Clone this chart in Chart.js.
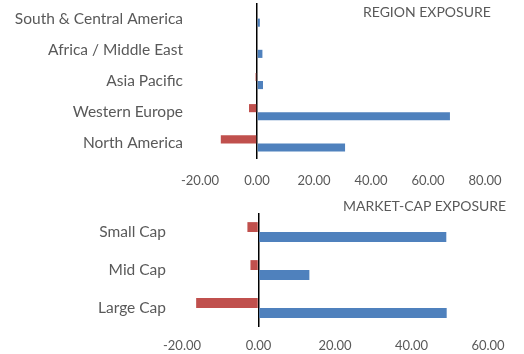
<!DOCTYPE html>
<html>
<head>
<meta charset="utf-8">
<script src="https://cdn.jsdelivr.net/npm/chart.js@4/dist/chart.umd.min.js"></script>
<style>
  body{margin:0;background:#fff;width:524px;height:354px;overflow:hidden;position:relative;font-family:Lato,sans-serif;}
  canvas{position:absolute;left:0;}
  #regionChart{top:0;}
  #capChart{top:195px;}
  .ttl{position:absolute;color:#595959;font-size:14px;line-height:16px;white-space:nowrap;}
</style>
</head>
<body>
<canvas id="regionChart" width="524" height="195"></canvas>
<canvas id="capChart" width="524" height="159"></canvas>
<div class="ttl" style="left:363px;top:4px;">REGION EXPOSURE</div>
<div class="ttl" style="left:343px;top:198px;">MARKET-CAP EXPOSURE</div>
<script>
// Data
const regionLabels=['South & Central America','Africa / Middle East','Asia Pacific','Western Europe','North America'];
const regionShort=[0, 0, -0.5, -2.8, -12.7];
const regionLong=[1.0, 1.9, 2.1, 67.7, 30.9];
const regionTicks={min:-20,max:80,step:20};

const capLabels=['Small Cap','Mid Cap','Large Cap'];
const capShort=[-2.9, -2.1, -16.3];
const capLong=[49.1, 13.3, 49.2];
const capTicks={min:-20,max:60,step:20};

const RED='#C0504D', BLUE='#4F81BD', GREY='#595959';

function makeChart(id, labels, shortVals, longVals, tk, box){
  const ctx=document.getElementById(id).getContext('2d');
  return new Chart(ctx,{
    type:'bar',
    data:{labels:labels,datasets:[
      {data:shortVals,backgroundColor:RED,categoryPercentage:box.cat,barPercentage:1},
      {data:longVals,backgroundColor:BLUE,categoryPercentage:box.cat,barPercentage:1}
    ]},
    options:{
      indexAxis:'y',responsive:false,animation:false,
      layout:{padding:{top:box.top,right:box.right,left:0,bottom:0}},
      plugins:{legend:{display:false},tooltip:{enabled:false}},
      scales:{
        x:{min:tk.min,max:tk.max,
          afterFit:s=>{s.height=box.xh;s.paddingLeft=0;s.paddingRight=0;},
          border:{display:false},
          grid:{drawTicks:false,lineWidth:1.5,color:c=>c.tick&&c.tick.value===0?'#000':'rgba(0,0,0,0)'},
          ticks:{stepSize:tk.step,padding:box.xpad,color:GREY,font:{family:'Lato',size:13},callback:v=>v.toFixed(2)}},
        y:{afterFit:s=>{s.width=box.yw;s.paddingTop=0;s.paddingBottom=0;},
          border:{display:false},
          grid:{display:false,drawTicks:false},
          ticks:{padding:box.ypad,color:GREY,font:{family:'Lato',size:15.5}}}
      }
    }
  });
}

makeChart('regionChart',regionLabels,regionShort,regionLong,regionTicks,{cat:0.52,top:3,right:39,xh:36,yw:200,xpad:14,ypad:17});
makeChart('capChart',capLabels,capShort,capLong,capTicks,{cat:0.52,top:18,right:36,xh:27,yw:182,xpad:11,ypad:16});
</script>
</body>
</html>
